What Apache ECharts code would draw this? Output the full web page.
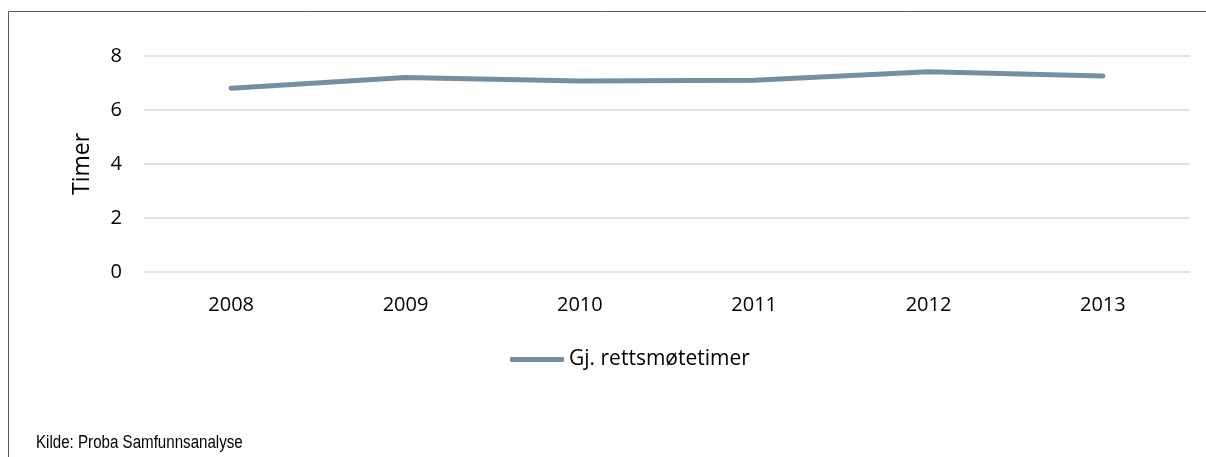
<!DOCTYPE html>
<html>
<head>
<meta charset="utf-8">
<script src="https://cdn.jsdelivr.net/npm/echarts@6/dist/echarts.min.js"></script>
<style>
  html, body { margin: 0; padding: 0; background: #fff; }
  #chart { width: 1206px; height: 457px; }
</style>
</head>
<body>
<div id="chart"></div>
<script>
// Average court-session hours per year
const years = ['2008', '2009', '2010', '2011', '2012', '2013'];
const hours = [6.81, 7.2, 7.07, 7.1, 7.42, 7.26];
const seriesName = 'Gj. rettsmøtetimer';
const axisTitle = 'Timer';
const sourceNote = 'Kilde: Proba Samfunnsanalyse';

const font = '"Open Sans", "Noto Sans", sans-serif';
const lineColor = '#758fa0';

const chart = echarts.init(document.getElementById('chart'), null, { renderer: 'canvas' });
chart.setOption({
  animation: false,
  backgroundColor: '#ffffff',
  grid: { left: 144, right: 16, top: 56, height: 216, containLabel: false },
  graphic: [
    { type: 'polyline', shape: { points: [[8.5, 460], [8.5, 11.5], [1210, 11.5]] },
      style: { stroke: '#595959', lineWidth: 1, fill: null }, silent: true },
    // condensed source line (narrow sans look)
    { type: 'text', x: 36, y: 434, scaleX: 0.84, scaleY: 1,
      style: { text: sourceNote, font: '18px "Liberation Sans", Arial, sans-serif', fill: '#000' } }
  ],
  legend: {
    data: [seriesName],
    top: 344,
    left: 505,
    itemWidth: 54,
    itemHeight: 5,
    itemGap: 4,
    icon: 'roundRect',
    textStyle: { fontFamily: font, fontSize: 21, color: '#000' }
  },
  xAxis: {
    type: 'category',
    data: years,
    boundaryGap: true,
    axisLine: { show: false },
    axisTick: { show: false },
    axisLabel: { fontFamily: font, fontSize: 20, color: '#000', margin: 23 }
  },
  yAxis: {
    type: 'value',
    min: 0,
    max: 8,
    interval: 2,
    name: axisTitle,
    nameLocation: 'middle',
    nameGap: 50,
    nameTextStyle: { fontFamily: font, fontSize: 23, color: '#000' },
    axisLine: { show: false },
    axisTick: { show: false },
    axisLabel: { fontFamily: font, fontSize: 20, color: '#000', margin: 22 },
    splitLine: { lineStyle: { color: '#d9d9d9', width: 1.5 } }
  },
  series: [{
    name: seriesName,
    type: 'line',
    data: hours,
    symbol: 'none',
    lineStyle: { color: lineColor, width: 5, cap: 'round', join: 'round' },
    itemStyle: { color: lineColor }
  }]
});
</script>
</body>
</html>
